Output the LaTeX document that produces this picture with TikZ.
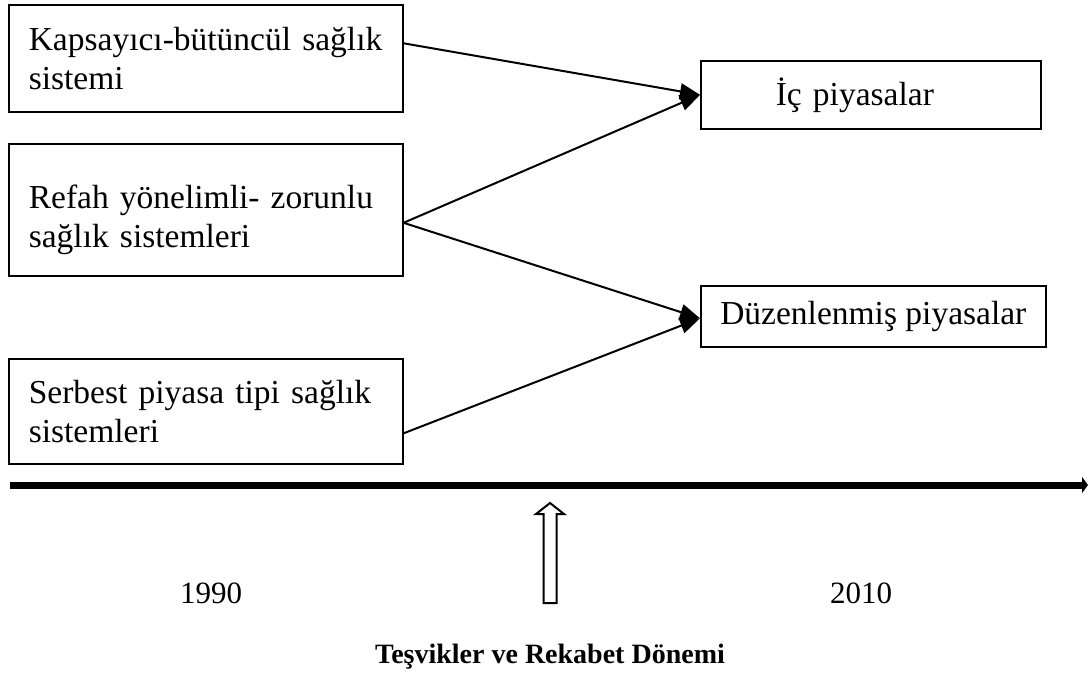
\documentclass[tikz,border=0pt]{standalone}
\usepackage{fontspec}
\setmainfont{Liberation Serif}
\usetikzlibrary{arrows.meta}
\begin{document}
\begin{tikzpicture}[x=1pt,y=-1pt,
  box/.style={draw, line width=1.6pt, rectangle, align=left, inner xsep=20pt, inner ysep=0pt, anchor=north west, font=\fontsize{33.5}{38.5}\selectfont},
  conn/.style={line width=2pt, -{Triangle[length=20pt,width=16pt]}},
  lbl/.style={font=\fontsize{31}{37}\selectfont, inner sep=0pt},
  hollow/.style={draw, line width=2pt, line join=miter}]
\useasboundingbox (0,0) rectangle (1089,678);
\node[box, minimum height=107pt, text width=354pt] (b1) at (8,4) {Kapsayıcı-bütüncül sağlık\\sistemi};
\node[box, minimum height=132pt, text width=354pt] (b2) at (8,143) {\rule{0pt}{44pt}Refah yönelimli- zorunlu\\sağlık sistemleri};
\node[box, minimum height=105pt, text width=354pt] (b3) at (8,358) {Serbest piyasa tipi sağlık\\sistemleri};
\node[box, minimum height=68pt, inner xsep=75pt, text width=190pt] (i1) at (700,60) {İç piyasalar};
\node[box, minimum height=61pt, minimum width=345pt, inner xsep=0pt] (d1) at (700,285) {Düzenlenmiş piyasalar};
\draw[conn] ([yshift=15pt]b1.east) -- (i1.west);
\draw[conn] ([yshift=-13pt]b2.east) -- (i1.west);
\draw[conn] ([yshift=-13pt]b2.east) -- ([yshift=-2pt]d1.west);
\draw[conn] ([yshift=-22pt]b3.east) -- ([yshift=-2pt]d1.west);
\coordinate (a0) at (10,485);
\coordinate (a1) at (1088,485);
\draw[line width=7pt, -{Triangle[length=6pt,width=16pt]}] (a0) -- (a1);
\coordinate (h0) at (550,503);
\draw[hollow] (543.5,603) -- (543.5,514) -- (536,514) -- (h0) -- (564,514) -- (556.5,514) -- (556.5,603) -- cycle;
\node[lbl] (y1) at (211,593) {1990};
\node[lbl] (y2) at (861,593) {2010};
\node[lbl, font=\fontsize{28}{34}\selectfont\bfseries] (t1) at (550,657) {Teşvikler ve Rekabet Dönemi};
\end{tikzpicture}
\end{document}
